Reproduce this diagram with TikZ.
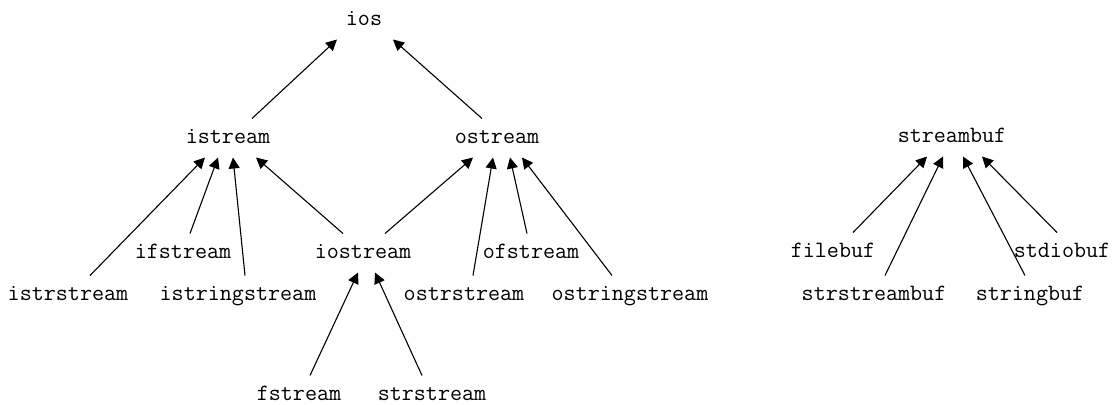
\documentclass[tikz,border=0pt]{standalone}
\usetikzlibrary{arrows.meta}
\tikzset{
	cls/.style ={font=\ttfamily\fontsize{11.7}{13}\selectfont, inner sep=0pt, outer sep=5pt, text height=7.5pt, text depth=2pt},
	inh/.style ={-{Triangle[length=5.5pt, width=5.5pt]}, line width=0.55pt},
}
\begin{document}
\begin{tikzpicture}[x=0.5pt, y=0.5pt]
	\useasboundingbox (0,0) rectangle (1120,-404);
	% stream classes
	\node[cls] (ios) at (364,-20) {ios};
	\node[cls] (istream) at (228,-138) {istream};
	\node[cls] (ostream) at (497,-138) {ostream};
	\node[cls] (ifstream) at (183,-253) {ifstream};
	\node[cls] (iostream) at (363,-253) {iostream};
	\node[cls] (ofstream) at (531,-253) {ofstream};
	\node[cls] (istrstream) at (68,-295) {istrstream};
	\node[cls] (istringstream) at (238,-295) {istringstream};
	\node[cls] (ostrstream) at (464,-295) {ostrstream};
	\node[cls] (ostringstream) at (630,-295) {ostringstream};
	\node[cls] (fstream) at (299,-395) {fstream};
	\node[cls] (strstream) at (432,-395) {strstream};
	% buffer classes
	\node[cls] (streambuf) at (952,-137) {streambuf};
	\node[cls] (filebuf) at (833,-252) {filebuf};
	\node[cls] (stdiobuf) at (1062,-252) {stdiobuf};
	\node[cls] (strstreambuf) at (874,-295) {strstreambuf};
	\node[cls] (stringbuf) at (1030,-295) {stringbuf};
	% child/shift/parent/shift
	\foreach \c/\sc/\p/\sp in {istream/12/ios/-13.5, ostream/-7.5/ios/14.5,
		istrstream/11/istream/-11.5, ifstream/3.5/istream/-5, istringstream/3.5/istream/2.5, iostream/-10/istream/14,
		iostream/11/ostream/-12, ostrstream/4.5/ostream/-2, ofstream/-2/ostream/6.5, ostringstream/-9/ostream/12.5,
		fstream/5.5/iostream/-2.5, strstream/-5/iostream/6,
		filebuf/10/streambuf/-12.5, strstreambuf/5.5/streambuf/-4.5, stringbuf/-2.5/streambuf/5.5, stdiobuf/-2.5/streambuf/15}
		\draw[inh] ([xshift=\sc pt]\c.north) -- ([xshift=\sp pt]\p.south);
\end{tikzpicture}
\end{document}
